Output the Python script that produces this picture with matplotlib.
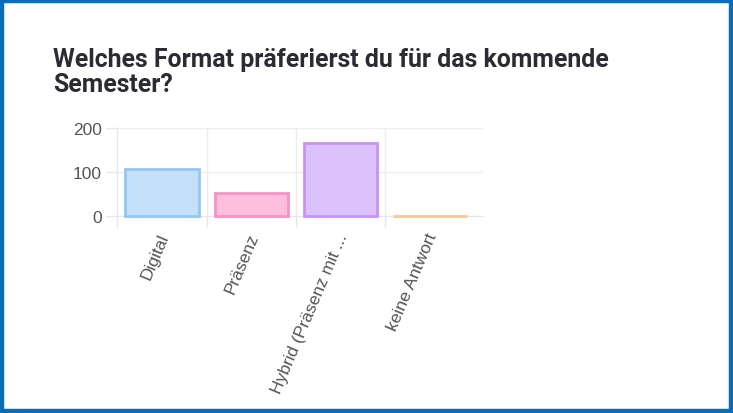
import matplotlib
matplotlib.use("Agg")
import matplotlib.pyplot as plt
from matplotlib.patches import Rectangle

title = "Welches Format präferierst du für das kommende\nSemester?"
categories = ["Digital", "Präsenz", "Hybrid (Präsenz mit ...", "keine Antwort"]
values = [108, 52, 166, 0]
fill_colors = ["#c5e0f8", "#fcbedd", "#dcc2fa", "#fde3c6"]
edge_colors = ["#93c7f3", "#f793c6", "#c892f5", "#f9c990"]
yticks = [0, 100, 200]

W, H = 733, 414
fig = plt.figure(figsize=(W / 100, H / 100), dpi=100)
fig.patch.set_facecolor("white")

# frame
fig.add_artist(Rectangle((1.5 / W, 2 / H), (W - 4) / W, (H - 4) / H,
                         transform=fig.transFigure, fill=False,
                         edgecolor="#0b6db5", linewidth=3.2))

for k, line in enumerate(title.split("\n")):
    fig.text(53 / W, 1 - (66.5 + 25.5 * k) / H, line, ha="left", va="baseline",
             fontsize=17.9, family="Roboto", fontweight="bold",
             color="#2b2b33")

left, right, top, bottom = 117.3, 483, 129, 217.3
ax = fig.add_axes([left / W, 1 - bottom / H, (right - left) / W, (bottom - top) / H])
x = list(range(len(categories)))
ax.bar(x, values, width=0.82, color=fill_colors, edgecolor=edge_colors,
       linewidth=2.0, zorder=3, clip_on=False)
ax.set_xlim(-0.5, 3.594)
ax.set_ylim(0, 200)
ax.set_yticks(yticks)
ax.set_yticklabels([str(v) for v in yticks], family="Liberation Sans",
                   fontsize=12.5, color="#555555")
ax.tick_params(axis="y", length=8, width=1, color="#e6e6e6", pad=3)
ax.set_xticks([i - 0.5 for i in range(4)])
ax.set_xticklabels([])
ax.tick_params(axis="x", length=8, width=1, color="#e6e6e6")
for s in ax.spines.values():
    s.set_visible(False)
ax.spines["left"].set_visible(True)
ax.spines["left"].set_color("#e6e6e6")
ax.spines["bottom"].set_visible(True)
ax.spines["bottom"].set_color("#e6e6e6")
ax.grid(True, color="#eeeeee", linewidth=1, zorder=0)
ax.set_axisbelow(True)

for i, lab in enumerate(categories):
    ax.annotate(lab, xy=(i, 0), xycoords=("data", "axes fraction"),
                xytext=(3, -17), textcoords="offset pixels",
                rotation=67, rotation_mode="anchor", ha="right", va="center",
                family="Liberation Sans", fontsize=12.5, color="#555555")

fig.savefig("out.png", dpi=100, facecolor="white")
